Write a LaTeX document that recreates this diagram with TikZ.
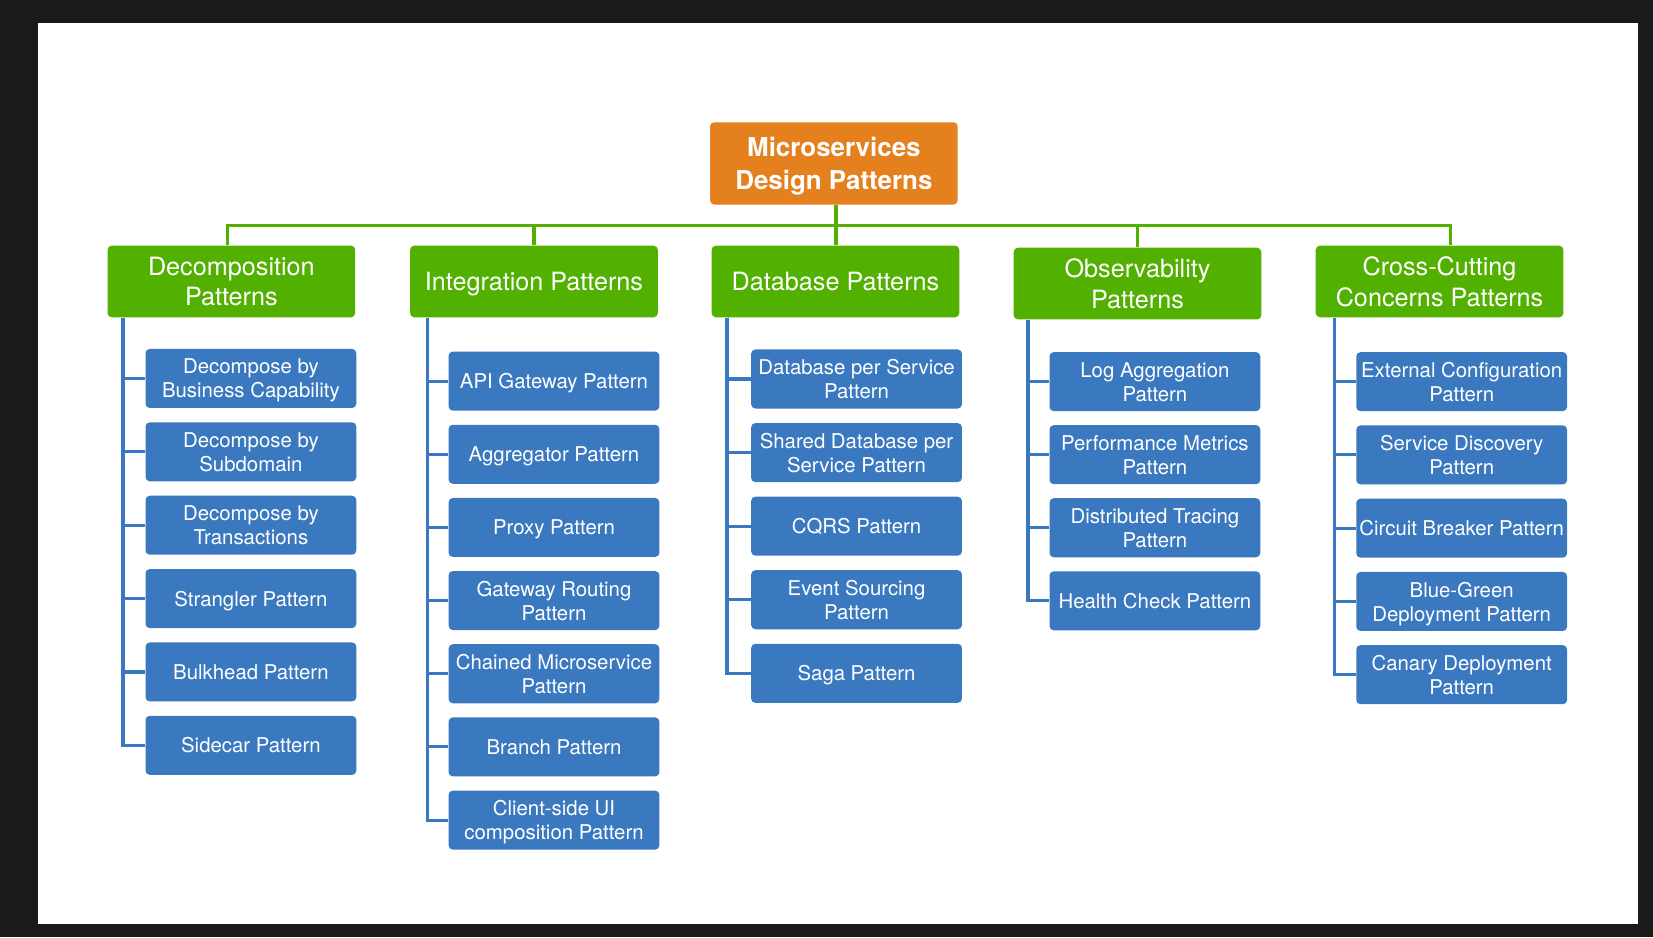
\documentclass[tikz,border=0pt]{standalone}
\usepackage{fontspec}
\setmainfont{TeX Gyre Heros}
\usepackage{tikz}
\usetikzlibrary{calc}
\definecolor{rootorange}{HTML}{E5801E}
\definecolor{headgreen}{HTML}{52B001}
\definecolor{subblue}{HTML}{3A79C0}
\definecolor{framegray}{HTML}{1A1A1A}

\begin{document}
\begin{tikzpicture}[x=0.02cm,y=-0.02cm,
    root/.style={fill=rootorange,rounded corners=0.08cm,text=white,align=center,inner sep=0pt,
        text depth=0pt,minimum width=4.7cm,minimum height=1.56cm,font=\fontsize{14}{17.6}\selectfont\bfseries},
    head/.style={fill=headgreen,rounded corners=0.08cm,text=white,align=center,inner sep=0pt,
        text depth=0pt,minimum width=4.7cm,minimum height=1.36cm,font=\fontsize{13.6}{16.5}\selectfont},
    sub/.style={fill=subblue,rounded corners=0.08cm,text=white,align=center,inner sep=0pt,
        text depth=0pt,minimum width=4cm,minimum height=1.12cm,font=\fontsize{11}{13}\selectfont},
    gline/.style={draw=headgreen,line width=1.7pt},
    bline/.style={draw=subblue,line width=1.7pt}]
    % frame and page
    \fill[framegray] (0,0) rectangle (1568,889);
    \fill[white] (36,22) rectangle (1554,876);
    % root and the five groups
    \node[root] (root) at (791,155) {Microservices\\Design Patterns};
    \node[head] (h1) at (219.5,267) {Decomposition\\Patterns};
    \node[head] (h2) at (506.5,267) {Integration Patterns};
    \node[head] (h3) at (792.5,267) {Database Patterns};
    \node[head] (h4) at (1079,269) {Observability\\Patterns};
    \node[head] (h5) at (1365.5,267) {Cross-Cutting\\Concerns Patterns};
    \coordinate (bus) at (793,214);
    \draw[gline] (root.south -| bus) -- (h3.north -| bus);
    \draw[gline] ($(h1.north)+(-3.5,0)$) |- (bus) -| ($(h5.north)+(10.5,0)$);
    \draw[gline] (h2.north) -- (h2.north |- bus);
    \draw[gline] (h4.north) -- (h4.north |- bus);
    % Decomposition
    \foreach \t [count=\i] in {{Decompose by\\Business Capability},{Decompose by\\Subdomain},
        {Decompose by\\Transactions},{Strangler Pattern},{Bulkhead Pattern},{Sidecar Pattern}}
        \node[sub] (a\i) at (238,{359+69.6*(\i-1)}) {\t};
    \foreach \i in {1,...,6}
        \draw[bline] ($(h1.south west)+(15,0)$) |- (a\i.west);
    % Integration
    \foreach \t [count=\i] in {{API Gateway Pattern},{Aggregator Pattern},{Proxy Pattern},
        {Gateway Routing\\Pattern},{Chained Microservice\\Pattern},{Branch Pattern},
        {Client-side UI\\composition Pattern}}
        \node[sub] (b\i) at (525.5,{361.5+69.4*(\i-1)}) {\t};
    \foreach \i in {1,...,7}
        \draw[bline] ($(h2.south west)+(17,0)$) |- (b\i.west);
    % Database
    \foreach \t [count=\i] in {{Database per Service\\Pattern},{Shared Database per\\Service Pattern},
        {CQRS Pattern},{Event Sourcing\\Pattern},{Saga Pattern}}
        \node[sub] (c\i) at (812.5,{359.5+69.8*(\i-1)}) {\t};
    \foreach \i in {1,...,5}
        \draw[bline] ($(h3.south west)+(15,0)$) |- (c\i.west);
    % Observability
    \foreach \t [count=\i] in {{Log Aggregation\\Pattern},{Performance Metrics\\Pattern},
        {Distributed Tracing\\Pattern},{Health Check Pattern}}
        \node[sub] (d\i) at (1095.5,{362+69.3*(\i-1)}) {\t};
    \foreach \i in {1,...,4}
        \draw[bline] ($(h4.south west)+(14,0)$) |- (d\i.west);
    % Cross-Cutting
    \foreach \t [count=\i] in {{External Configuration\\Pattern},{Service Discovery\\Pattern},
        {Circuit Breaker Pattern},{Blue-Green\\Deployment Pattern},{Canary Deployment\\Pattern}}
        \node[sub] (e\i) at (1386.5,{362+69.5*(\i-1)}) {\t};
    \foreach \i in {1,...,5}
        \draw[bline] ($(h5.south west)+(18,0)$) |- (e\i.west);
\end{tikzpicture}
\end{document}
